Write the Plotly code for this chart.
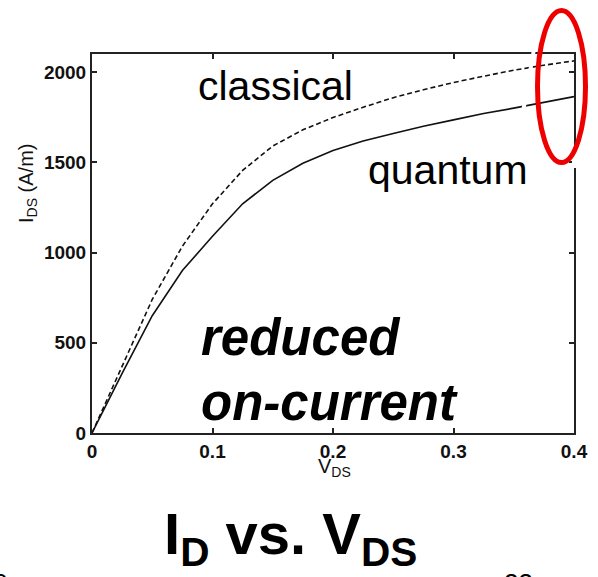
import plotly.graph_objects as go

# Drain voltage sweep (V) and drain current per width (A/m)
vds = [0.0, 0.025, 0.05, 0.075, 0.1, 0.125, 0.15, 0.175, 0.2, 0.225,
       0.25, 0.275, 0.3, 0.325, 0.35, 0.375, 0.4]
i_classical = [0, 375, 740, 1035, 1270, 1455, 1590, 1680, 1748, 1805,
               1858, 1902, 1942, 1977, 2010, 2038, 2062]
i_quantum = [0, 330, 650, 900, 1090, 1270, 1400, 1495, 1565, 1618,
             1660, 1700, 1735, 1770, 1800, 1832, 1864]

x_ticks = [0, 0.1, 0.2, 0.3, 0.4]
x_ticklabels = ["0", "0.1", "0.2", "0.3", "0.4"]
y_ticks = [0, 500, 1000, 1500, 2000]
y_ticklabels = ["0", "500", "1000", "1500", "2000"]

W, H = 598, 577
ML, MR, MT, MB = 92, 24, 54, 144

SANS = "Liberation Sans, Arial, sans-serif"

fig = go.Figure()
fig.add_trace(go.Scatter(x=vds, y=i_classical, mode="lines", name="classical",
                         line=dict(color="#111111", width=1.6, dash="5px,3px")))
fig.add_trace(go.Scatter(x=vds, y=i_quantum, mode="lines", name="quantum",
                         line=dict(color="#111111", width=1.6)))

axis_common = dict(
    showgrid=False, zeroline=False, showline=True, linecolor="#222222",
    linewidth=2, mirror="ticks", ticks="inside", ticklen=5, tickwidth=1.5,
    tickcolor="#222222",
    tickfont=dict(family=SANS, size=19, color="#111111", weight="bold"),
)
fig.update_xaxes(range=[0, 0.4], tickvals=x_ticks, ticktext=x_ticklabels, **axis_common)
fig.update_yaxes(range=[0, 2100], tickvals=y_ticks, ticktext=y_ticklabels, **axis_common)


def px_x(p):
    return (p - ML) / (W - ML - MR)


def px_y(p):
    return (H - MB - p) / (H - MT - MB)


annotations = [
    dict(text="I<sub>DS</sub> (A/m)", x=px_x(28), y=px_y(184), textangle=-90,
         font=dict(family=SANS, size=20, color="#111111")),
    dict(text="V<sub>DS</sub>", x=px_x(334), y=px_y(467),
         font=dict(family=SANS, size=20, color="#111111")),
    dict(text="classical", x=px_x(275), y=px_y(86),
         font=dict(family=SANS, size=41, color="#000000")),
    dict(text="quantum", x=px_x(448), y=px_y(170),
         font=dict(family=SANS, size=41, color="#000000")),
    dict(text="<b><i>reduced</i></b>", x=px_x(199), y=px_y(337), xanchor="left",
         font=dict(family=SANS, size=51, color="#000000")),
    dict(text="<b><i>on-current</i></b>", x=px_x(199), y=px_y(402), xanchor="left",
         font=dict(family=SANS, size=51, color="#000000")),
    dict(text="<b>I<sub>D</sub> vs. V<sub>DS</sub></b>", x=px_x(290), y=px_y(538),
         font=dict(family=SANS, size=58, color="#000000")),
    # slide page-number fragments at the lower corners
    dict(text="6", x=px_x(9), y=px_y(566), xanchor="right", yanchor="top",
         font=dict(family=SANS, size=26, color="#000000")),
    dict(text="23", x=px_x(502), y=px_y(566), xanchor="left", yanchor="top",
         font=dict(family=SANS, size=26, color="#000000")),
]
for a in annotations:
    a.setdefault("xanchor", "center")
    a.setdefault("yanchor", "middle")
    a.update(xref="paper", yref="paper", showarrow=False)

fig.update_layout(
    width=W, height=H,
    margin=dict(l=ML, r=MR, t=MT, b=MB, autoexpand=False),
    paper_bgcolor="white", plot_bgcolor="white",
    showlegend=False,
    annotations=annotations,
    shapes=[
        # thin white breaks crossing the frame and curves near the top right
        dict(type="line", xref="paper", yref="paper",
             x0=px_x(534), y0=px_y(49), x1=px_x(523), y1=px_y(112),
             line=dict(color="white", width=4)),
        dict(type="line", xref="paper", yref="paper",
             x0=px_x(574), y0=px_y(153), x1=px_x(574), y1=px_y(168),
             line=dict(color="white", width=4)),
        dict(type="circle", xref="paper", yref="paper",
             x0=px_x(537.5), x1=px_x(585.5), y0=px_y(162.5), y1=px_y(10.5),
             line=dict(color="#ee0000", width=5)),
    ],
)

fig.write_html("out.html")
